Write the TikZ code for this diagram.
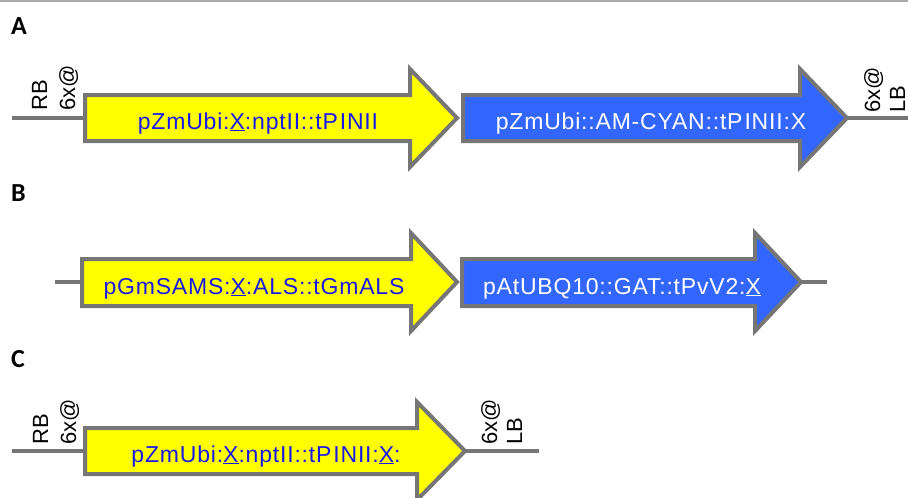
\documentclass[tikz,border=0pt]{standalone}
\usepackage{fontspec}
\setmainfont{Liberation Sans}
\newfontfamily\genefont[LetterSpace=3.5]{Liberation Sans}
\newfontfamily\panelfont{Carlito}
\definecolor{gyellow}{RGB}{255,255,0}
\definecolor{gblue}{RGB}{51,102,255}
\definecolor{gborder}{RGB}{118,118,118}
\definecolor{gtext}{RGB}{25,25,235}
\definecolor{topline}{RGB}{170,170,170}
\tikzset{
  yarrow/.style={draw=gborder, line width=4pt, fill=gyellow, line join=miter},
  barrow/.style={draw=gborder, line width=4pt, fill=gblue, line join=miter},
  backbone/.style={draw=gborder, line width=3.6pt},
  ytext/.style={font=\genefont\fontsize{23}{27}\selectfont, text=gtext, anchor=base, inner sep=0pt},
  btext/.style={font=\genefont\fontsize{23}{27}\selectfont, text=white, anchor=base, inner sep=0pt},
  border/.style={font=\fontsize{22}{26}\selectfont, rotate=90, anchor=base west, inner sep=0pt},
  panel/.style={font=\panelfont\bfseries\fontsize{26}{30}\selectfont, anchor=base west, inner sep=0pt}
}
\begin{document}
\begin{tikzpicture}[x=1pt,y=-1pt]
\useasboundingbox (0,0) rectangle (908,498);
\draw[topline, line width=2pt] (0,1) -- (908,1);

% ---------- Panel A ----------
\node[panel] (lA) at (11,34) {A};
\coordinate (a0) at (12,118);
\coordinate (a1) at (85,118);
\coordinate (a2) at (847,118);
\coordinate (a3) at (910,118);
\draw[backbone] (a0) -- (a1);
\draw[backbone] (a2) -- (a3);
\draw[yarrow] (85,95) -- (410,95) -- (410,69) -- (457,118) -- (410,167) -- (410,141) -- (85,141) -- cycle;
\draw[barrow] (463,95) -- (800,95) -- (800,69) -- (847,118) -- (800,167) -- (800,141) -- (463,141) -- cycle;
\node[ytext] (tA1) at (258,129) {pZmUbi:\underline{X}:nptII::tP\kern2ptINII};
\node[btext] (tA2) at (651,129) {pZmUbi::AM-CYAN::tP\kern2ptINII:X};
\node[border] (rbA) at (47,111) {RB};
\node[border] (sxA1) at (75,111) {6x@};
\node[border] (sxA2) at (880,113) {6x@};
\node[border] (lbA) at (905,113) {LB};

% ---------- Panel B ----------
\node[panel] (lB) at (11,201) {B};
\coordinate (b0) at (55,282);
\coordinate (b1) at (82,282);
\coordinate (b2) at (801,282);
\coordinate (b3) at (827,282);
\draw[backbone] (b0) -- (b1);
\draw[backbone] (b2) -- (b3);
\draw[yarrow] (82,259) -- (411,259) -- (411,233) -- (457,282) -- (411,331) -- (411,306) -- (82,306) -- cycle;
\draw[barrow] (462,259) -- (755,259) -- (755,233) -- (801,282) -- (755,331) -- (755,306) -- (462,306) -- cycle;
\node[ytext] (tB1) at (254,294) {pGmSAMS:\underline{X}:ALS::tGmALS};
\node[btext] (tB2) at (622,294) {pAtUBQ10::GAT::tPvV2:\underline{X}};

% ---------- Panel C ----------
\node[panel] (lC) at (11,367) {C};
\coordinate (c0) at (12,451);
\coordinate (c1) at (85,451);
\coordinate (c2) at (465,451);
\coordinate (c3) at (539,451);
\draw[backbone] (c0) -- (c1);
\draw[backbone] (c2) -- (c3);
\draw[yarrow] (85,428) -- (417,428) -- (417,402) -- (465,451) -- (417,500) -- (417,474) -- (85,474) -- cycle;
\node[ytext] (tC1) at (266,462) {pZmUbi:\underline{X}:nptII::tP\kern2ptINII:\underline{X}:};
\node[border] (rbC) at (48,445) {RB};
\node[border] (sxC1) at (76,445) {6x@};
\node[border] (sxC2) at (497,445) {6x@};
\node[border] (lbC) at (522,445) {LB};
\end{tikzpicture}
\end{document}
